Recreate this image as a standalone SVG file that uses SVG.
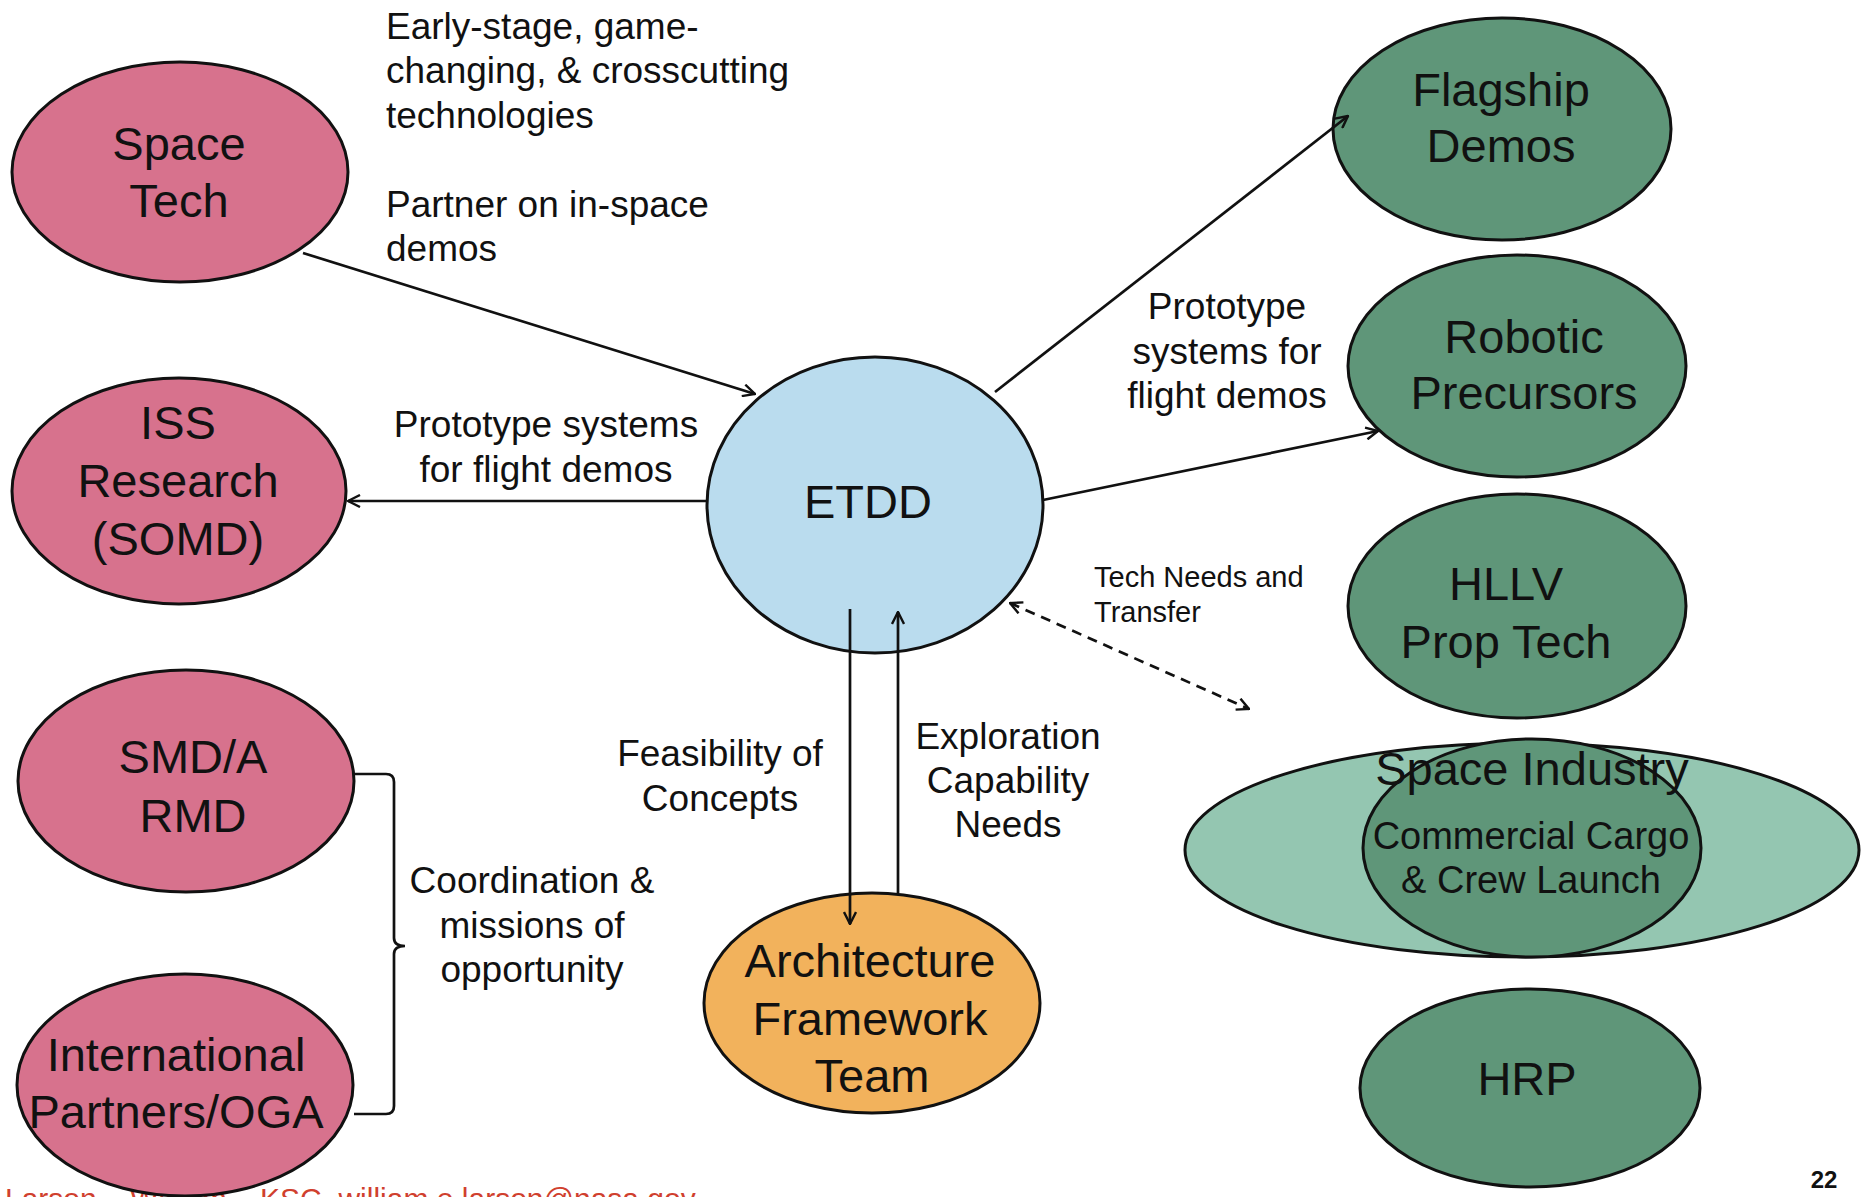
<svg xmlns="http://www.w3.org/2000/svg" width="1862" height="1197" viewBox="0 0 1862 1197">
<defs>
<style>
.node{stroke:#111;stroke-width:3}
.pink{fill:#d7728d}
.green{fill:#5f9679}
.blue{fill:#badcee}
.orange{fill:#f2b25c}
.lightgreen{fill:#94c6b1}
.nt{font-family:"Liberation Sans",Arial,sans-serif;font-size:47px;fill:#111;text-anchor:middle}
.lbl{font-family:"Liberation Sans",Arial,sans-serif;font-size:37px;fill:#111}
.mid{text-anchor:middle}
.conn{stroke:#111;stroke-width:2.7;fill:none}
</style>
<marker id="arr" viewBox="0 0 14 14" refX="13" refY="7" markerWidth="14" markerHeight="14" markerUnits="userSpaceOnUse" orient="auto-start-reverse">
<path d="M1,1 L13,7 L1,13" fill="none" stroke="#111" stroke-width="2.4"/>
</marker>
</defs>
<rect width="1862" height="1197" fill="#fff"/>

<text x="5" y="1209" font-family="Liberation Sans, Arial, sans-serif" font-size="30" fill="#d0402e">Larson – William – KSC, william.e.larson@nasa.gov</text>

<g id="space-tech">
<ellipse class="node pink" cx="180" cy="172" rx="168" ry="110"/>
<text class="nt" x="179" y="160">Space</text>
<text class="nt" x="179" y="217">Tech</text>
</g>

<g id="iss-research">
<ellipse class="node pink" cx="179" cy="491" rx="167" ry="113"/>
<text class="nt" x="178" y="439">ISS</text>
<text class="nt" x="178" y="497">Research</text>
<text class="nt" x="178" y="555">(SOMD)</text>
</g>

<g id="smd-rmd">
<ellipse class="node pink" cx="186" cy="781" rx="168" ry="111"/>
<text class="nt" x="193" y="773">SMD/A</text>
<text class="nt" x="193" y="832">RMD</text>
</g>

<g id="intl-partners">
<ellipse class="node pink" cx="185" cy="1085" rx="168" ry="111"/>
<text class="nt" x="176" y="1071">International</text>
<text class="nt" x="176" y="1128">Partners/OGA</text>
</g>

<g id="etdd">
<ellipse class="node blue" cx="875" cy="505" rx="168" ry="148"/>
<text class="nt" x="868" y="518">ETDD</text>
</g>

<g id="architecture">
<ellipse class="node orange" cx="872" cy="1003" rx="168" ry="110"/>
<text class="nt" x="870" y="977">Architecture</text>
<text class="nt" x="870" y="1035">Framework</text>
<text class="nt" x="872" y="1092">Team</text>
</g>

<g id="flagship">
<ellipse class="node green" cx="1502" cy="129" rx="169" ry="111"/>
<text class="nt" x="1501" y="106">Flagship</text>
<text class="nt" x="1501" y="162">Demos</text>
</g>

<g id="robotic">
<ellipse class="node green" cx="1517" cy="366" rx="169" ry="111"/>
<text class="nt" x="1524" y="353">Robotic</text>
<text class="nt" x="1524" y="409">Precursors</text>
</g>

<g id="hllv">
<ellipse class="node green" cx="1517" cy="606" rx="169" ry="112"/>
<text class="nt" x="1506" y="600">HLLV</text>
<text class="nt" x="1506" y="658">Prop Tech</text>
</g>

<g id="space-industry">
<ellipse class="node lightgreen" cx="1522" cy="850" rx="337" ry="107"/>
<ellipse class="node green" cx="1532" cy="848" rx="169" ry="109"/>
<text class="nt" x="1532" y="785">Space Industry</text>
<text class="nt" x="1531" y="849" style="font-size:38px">Commercial Cargo</text>
<text class="nt" x="1531" y="893" style="font-size:38px">&amp; Crew Launch</text>
</g>

<g id="hrp">
<ellipse class="node green" cx="1530" cy="1088" rx="170" ry="99"/>
<text class="nt" x="1527" y="1095">HRP</text>
</g>

<g id="connectors">
<line class="conn" x1="303" y1="253" x2="755" y2="394" marker-end="url(#arr)"/>
<line class="conn" x1="706" y1="501" x2="348" y2="501" marker-end="url(#arr)"/>
<line class="conn" x1="995" y1="392" x2="1348" y2="116" marker-end="url(#arr)"/>
<line class="conn" x1="1043" y1="500" x2="1378" y2="431" marker-end="url(#arr)"/>
<line class="conn" x1="1010" y1="603" x2="1249" y2="709" stroke-dasharray="10,7" marker-start="url(#arr)" marker-end="url(#arr)"/>
<line class="conn" x1="850" y1="609" x2="850" y2="924" marker-end="url(#arr)"/>
<line class="conn" x1="898" y1="893" x2="898" y2="612" marker-end="url(#arr)"/>
<path class="conn" d="M354,774 L386,774 Q394,774 394,782 L394,938 Q394,946 405,946 Q394,946 394,954 L394,1106 Q394,1114 386,1114 L354,1114"/>
</g>

<g id="labels">
<text class="lbl" x="386" y="39">Early-stage, game-</text>
<text class="lbl" x="386" y="83">changing, &amp; crosscutting</text>
<text class="lbl" x="386" y="128">technologies</text>
<text class="lbl" x="386" y="217">Partner on in-space</text>
<text class="lbl" x="386" y="261">demos</text>

<text class="lbl mid" x="546" y="437">Prototype systems</text>
<text class="lbl mid" x="546" y="482">for flight demos</text>

<text class="lbl mid" x="1227" y="319">Prototype</text>
<text class="lbl mid" x="1227" y="364">systems for</text>
<text class="lbl mid" x="1227" y="408">flight demos</text>

<text class="lbl" x="1094" y="587" style="font-size:29px">Tech Needs and</text>
<text class="lbl" x="1094" y="622" style="font-size:29px">Transfer</text>

<text class="lbl mid" x="720" y="766">Feasibility of</text>
<text class="lbl mid" x="720" y="811">Concepts</text>

<text class="lbl mid" x="1008" y="749">Exploration</text>
<text class="lbl mid" x="1008" y="793">Capability</text>
<text class="lbl mid" x="1008" y="837">Needs</text>

<text class="lbl mid" x="532" y="893">Coordination &amp;</text>
<text class="lbl mid" x="532" y="938">missions of</text>
<text class="lbl mid" x="532" y="982">opportunity</text>

<text x="1824" y="1188" font-family="Liberation Sans, Arial, sans-serif" font-size="24" font-weight="bold" text-anchor="middle" fill="#111">22</text>
</g>
</svg>
